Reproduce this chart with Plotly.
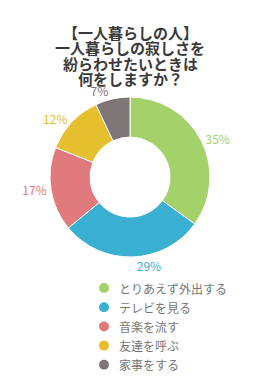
import plotly.graph_objects as go

categories = ["とりあえず外出する", "テレビを見る", "音楽を流す", "友達を呼ぶ", "家事をする"]
values = [35, 29, 17, 12, 7]
colors = ["#a5d16b", "#39afd1", "#e07a7c", "#e5bf2e", "#7e7577"]
title_lines = ["【一人暮らしの人】", "一人暮らしの寂しさを", "紛らわせたいときは", "何をしますか？"]

FONT = "Noto Sans CJK JP"

fig = go.Figure()
fig.add_trace(go.Pie(
    labels=categories, values=values, sort=False, direction="clockwise", rotation=0,
    hole=0.5, marker=dict(colors=colors, line=dict(color="white", width=1)),
    textposition="outside", texttemplate="%{value}%",
    textfont=dict(color=colors, size=12, family=FONT),
    domain=dict(x=[50/260, 210/260], y=[1-257/380, 1-97/380]),
    showlegend=False, hoverinfo="label+percent",
))

# custom legend: circle markers + labels (pixel-space axes)
leg_y = [288 + 19.2*i for i in range(len(categories))]
fig.add_trace(go.Scatter(
    x=[104]*len(categories), y=leg_y, mode="markers",
    marker=dict(color=colors, size=10, symbol="circle"),
    showlegend=False, hoverinfo="skip",
))
for c, yy in zip(categories, leg_y):
    fig.add_annotation(text=c, x=117, y=yy, xref="x", yref="y", xanchor="left", yanchor="middle",
                       showarrow=False, font=dict(size=12, color="#777777", family=FONT))

for i, t in enumerate(title_lines):
    fig.add_annotation(text="<b>" + t + "</b>", x=130, xref="x", xanchor="center",
                       y=32 + 15.6*i, yref="y", yanchor="middle",
                       showarrow=False, font=dict(size=15, color="#3a3a3a", family=FONT))

fig.update_layout(
    width=260, height=380, margin=dict(l=0, r=0, t=0, b=0),
    paper_bgcolor="white", plot_bgcolor="white",
    xaxis=dict(visible=False, range=[0, 260], domain=[0, 1], fixedrange=True),
    yaxis=dict(visible=False, range=[380, 0], domain=[0, 1], fixedrange=True),
    showlegend=False,
    font=dict(family=FONT),
)
fig.write_html("out.html")
